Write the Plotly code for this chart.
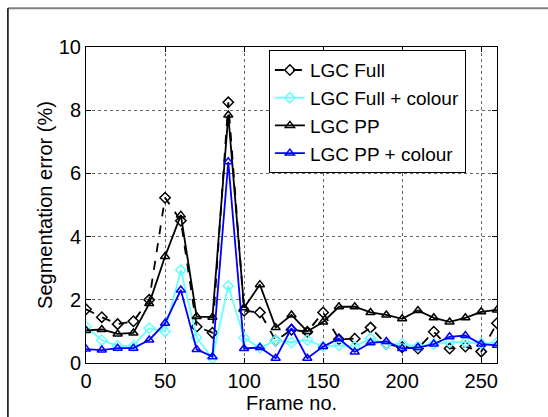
import plotly.graph_objects as go

frames = [0, 10, 20, 30, 40, 50, 60, 70, 80, 90, 100, 110, 120, 130, 140, 150, 160, 170, 180, 190, 200, 210, 220, 230, 240, 250, 260]
lgc_full = [1.70, 1.45, 1.23, 1.32, 2.0, 5.23, 4.5, 1.15, 0.96, 8.25, 1.65, 1.6, 0.71, 1.05, 0.99, 1.6, 0.75, 0.77, 1.12, 0.6, 0.5, 0.46, 0.99, 0.46, 0.52, 0.36, 1.26]
lgc_full_colour = [1.15, 0.72, 0.54, 0.54, 1.1, 1.0, 2.94, 0.8, 0.15, 2.44, 0.8, 0.48, 0.71, 0.65, 0.73, 0.52, 0.56, 0.52, 0.78, 0.6, 0.6, 0.52, 0.6, 0.66, 0.66, 0.62, 0.64]
lgc_pp = [1.03, 1.06, 0.92, 0.95, 1.88, 3.37, 4.68, 1.47, 1.45, 7.85, 1.75, 2.48, 1.12, 1.52, 1.0, 1.3, 1.78, 1.78, 1.6, 1.52, 1.4, 1.66, 1.43, 1.3, 1.43, 1.62, 1.68]
lgc_pp_colour = [0.44, 0.41, 0.47, 0.47, 0.73, 1.26, 2.31, 0.43, 0.2, 6.37, 0.46, 0.49, 0.15, 1.1, 0.15, 0.52, 0.77, 0.35, 0.64, 0.68, 0.46, 0.49, 0.6, 0.83, 0.87, 0.6, 0.56]

names = ["LGC Full", "LGC Full + colour", "LGC PP", "LGC PP + colour"]
series = [lgc_full, lgc_full_colour, lgc_pp, lgc_pp_colour]
colors = ["black", "#66ffff", "black", "#0000ff"]
dashes = ["dash", "solid", "solid", "solid"]
symbols = ["diamond-open", "diamond-open", "triangle-up-open", "triangle-up-open"]

fig = go.Figure()
for n, s, c, d, sym in zip(names, series, colors, dashes, symbols):
    fig.add_trace(go.Scatter(
        x=frames, y=s, name=n, mode="lines+markers",
        line=dict(color=c, width=1.8, dash=d),
        marker=dict(symbol=sym, size=8, color=c, line=dict(color=c, width=1.5)),
    ))

font = "Liberation Sans, Arial, sans-serif"
axis_common = dict(
    showline=True, linecolor="black", linewidth=1, mirror="ticks",
    ticks="inside", ticklen=5, tickcolor="black",
    showgrid=True, gridcolor="#666666", griddash="dot", gridwidth=1,
    zeroline=False, tickfont=dict(family=font, size=20, color="black"),
)

fig.update_layout(
    width=548, height=417,
    margin=dict(l=86, r=51, t=47, b=54),
    paper_bgcolor="white", plot_bgcolor="white",
    font=dict(family=font, size=20, color="black"),
    xaxis=dict(range=[0, 260], tickvals=[0, 50, 100, 150, 200, 250],
               title=dict(text="Frame no.", font=dict(family=font, size=20), standoff=0),
               **axis_common),
    yaxis=dict(range=[0, 10], tickvals=[0, 2, 4, 6, 8, 10],
               title=dict(text="Segmentation error (%)", font=dict(family=font, size=20), standoff=0),
               **axis_common),
    legend=dict(x=0.445, y=0.99, xanchor="left", yanchor="top",
                bgcolor="white", bordercolor="black", borderwidth=1,
                font=dict(family=font, size=19, color="black"),
                tracegroupgap=0, itemwidth=30),
    showlegend=True,
    shapes=[
        dict(type="line", xref="paper", yref="paper", x0=-0.19, x1=1.13, y0=1.123, y1=1.123,
             line=dict(color="#808080", width=2)),
        dict(type="line", xref="paper", yref="paper", x0=-0.19, x1=-0.19, y0=1.123, y1=-0.2,
             line=dict(color="black", width=1.5)),
    ],
)

fig.write_html("out.html")
